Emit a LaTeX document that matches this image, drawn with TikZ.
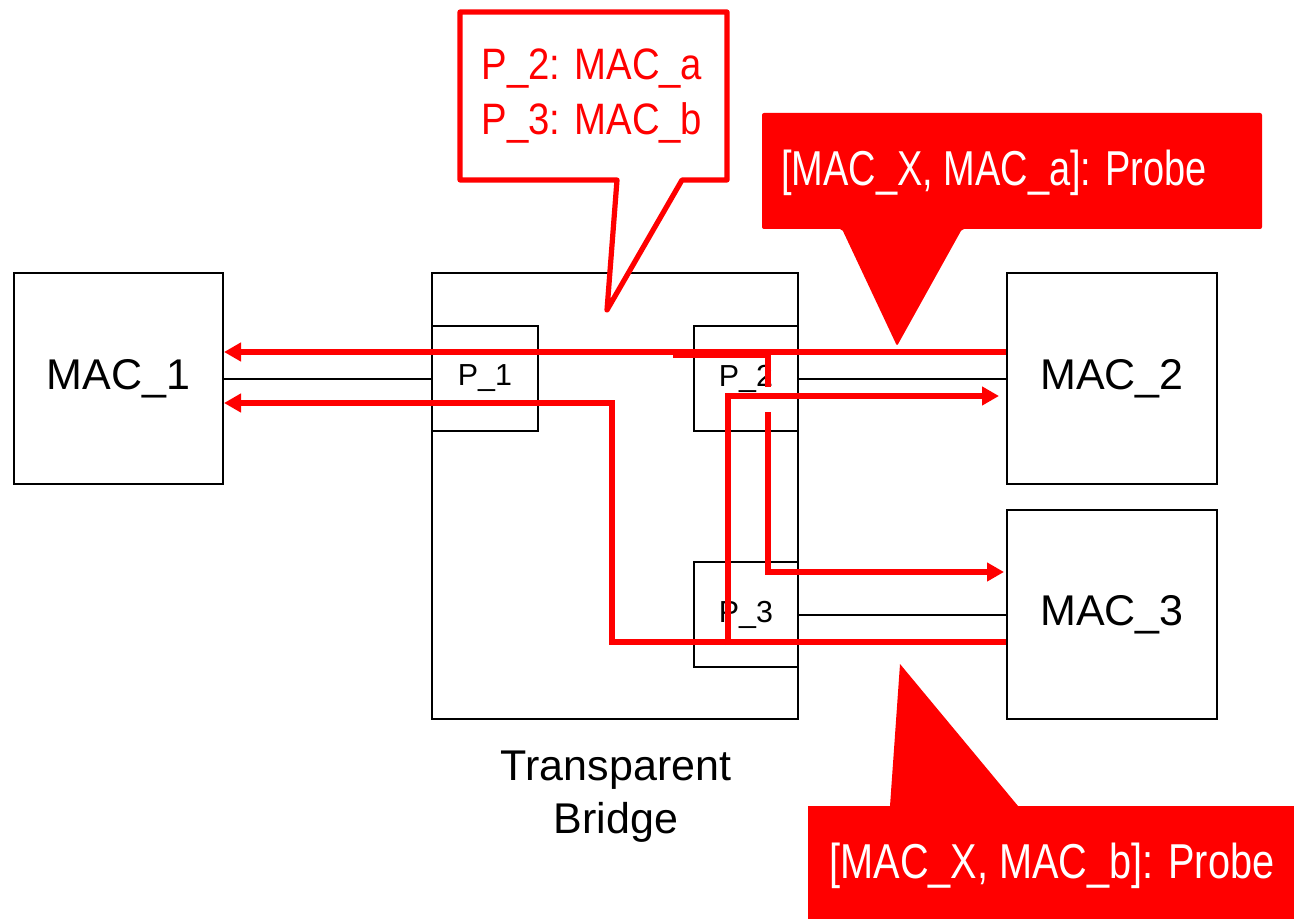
\documentclass[tikz,border=0pt]{standalone}
\usepackage{fontspec}
\setmainfont{Liberation Sans}
\newfontfamily\narrowfont[FakeStretch=0.87]{Liberation Sans}
\newfontfamily\narrowfontB[FakeStretch=0.775]{Liberation Sans}
\newfontfamily\narrowfontC[FakeStretch=0.81]{Liberation Sans}
\usetikzlibrary{arrows.meta}
\definecolor{pred}{RGB}{255,0,0}
\begin{document}
\begin{tikzpicture}[x=0.5pt,y=-0.5pt,
  box/.style={draw=black,line width=1pt,inner sep=0pt,fill=white},
  bigtext/.style={font=\fontsize{21.5}{26.5}\selectfont},
  smalltext/.style={font=\fontsize{15.2}{18}\selectfont},
  wire/.style={draw=black,line width=1pt},
  redline/.style={draw=pred,line width=2.8pt},
  redarrow/.style={redline,-{Triangle[length=8.5pt,width=9pt]}},
  calloutA/.style={draw=pred,line width=2.6pt,fill=white,line join=round},
  calloutB/.style={fill=pred,rounded corners=1pt},
  calltextA/.style={text=pred,align=left,font=\narrowfont\fontsize{22}{27.5}\selectfont},
  calltextB/.style={text=white,font=\narrowfontB\fontsize{24.5}{28}\selectfont},
  calltextC/.style={text=white,font=\narrowfontC\fontsize{24.5}{28}\selectfont}]
\useasboundingbox (0,0) rectangle (1294,919);
% boxes
\node[box,bigtext,minimum width=104.5pt,minimum height=105.5pt] (mac1) at (118.5,378.5) {MAC\_1};
\node[box,minimum width=183pt,minimum height=223pt,fill=none] (bridge) at (615,496) {};
\node[box,smalltext,minimum width=53pt,minimum height=52.5pt] (p1) at (485,378.5) {P\_1};
\node[box,smalltext,minimum width=52pt,minimum height=52.5pt] (p2) at (746,378.5) {P\_2};
\node[box,smalltext,minimum width=52pt,minimum height=52.5pt] (p3) at (746,614.5) {P\_3};
\node[box,bigtext,minimum width=105pt,minimum height=105.5pt] (mac2) at (1112,378.5) {MAC\_2};
\node[box,bigtext,minimum width=105pt,minimum height=104.5pt] (mac3) at (1112,614.5) {MAC\_3};
\node[bigtext,align=center] (bridgelabel) at (616,797) {Transparent\\Bridge};
% black links
\draw[wire] (mac1.east) -- (p1.west);
\draw[wire] (p2.east) -- (mac2.west);
\draw[wire] (p3.east) -- (mac3.west);
% red paths
\coordinate (m2in) at ([xshift=-3.5pt]mac2.west);
\coordinate (m3in) at ([xshift=-1pt]mac3.west);
\coordinate (b1) at (673,355);
\coordinate (b2) at (768,355);
\coordinate (b3) at (768,387);
\coordinate (b4) at (768,412);
\coordinate (b5) at (768,572);
\coordinate (c1) at (728,645);
\coordinate (c2) at (728,396);
\coordinate (d1) at (612,642);
\coordinate (d2) at (612,403);
\draw[redarrow] (mac2.west |- 0,352) -- (mac1.east |- 0,352);
\draw[redline] (b1) -- (b2) -- (b3);
\draw[redarrow] (b4) -- (b5) -- (m3in |- b5);
\draw[redarrow] (c1) -- (c2) -- (m2in |- c2);
\draw[redarrow] (mac3.west |- d1) -- (d1) -- (d2) -- (mac1.east |- d2);
% callout 1
\draw[calloutA] (460,12) -- (727,12) -- (727,180) -- (682,180) -- (607,310) -- (617,180) -- (460,180) -- cycle;
\node[calltextA] (cap1) at (592,96) {P\_2: MAC\_a\\P\_3: MAC\_b};
% callout 2
\fill[calloutB] (762,113) -- (1262,113) -- (1262,229) -- (962,229) -- (897,346) -- (842,229) -- (762,229) -- cycle;
\node[calltextB] (cap2) at (994,173) {[MAC\_X, MAC\_a]: Probe};
% callout 3
\fill[pred] (808,806) -- (890,806) -- (900,664) -- (1018,806) -- (1294,806) -- (1294,919) -- (808,919) -- cycle;
\node[calltextC] (cap3) at (1052,866) {[MAC\_X, MAC\_b]: Probe};
\end{tikzpicture}
\end{document}
